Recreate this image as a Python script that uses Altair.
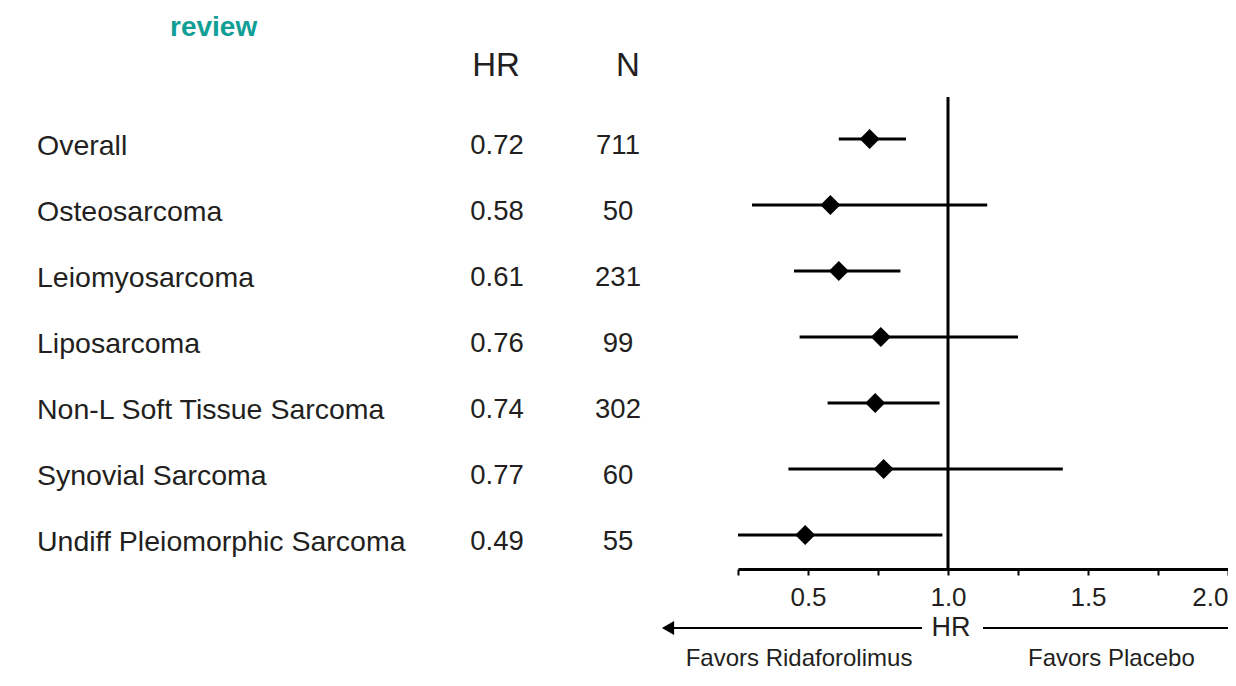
import altair as alt
import pandas as pd

# ---- data ----
categories = ["Overall", "Osteosarcoma", "Leiomyosarcoma", "Liposarcoma",
              "Non-L Soft Tissue Sarcoma", "Synovial Sarcoma",
              "Undiff Pleiomorphic Sarcoma"]
hr_values = [0.72, 0.58, 0.61, 0.76, 0.74, 0.77, 0.49]
n_values = [711, 50, 231, 99, 302, 60, 55]
ci_low = [0.61, 0.30, 0.45, 0.47, 0.57, 0.43, 0.25]
ci_high = [0.85, 1.14, 0.83, 1.25, 0.97, 1.41, 0.98]
axis_ticks = [0.25, 0.5, 0.75, 1.0, 1.25, 1.5, 1.75, 2.0]
ref_value = [1.0]
headers = ["HR", "N"]
legend_left = "Favors Ridaforolimus"
legend_right = "Favors Placebo"
legend_mid = "HR"
title_fragment = "review"

df = pd.DataFrame({
    "row": list(range(len(categories))),
    "label": categories,
    "hr": hr_values,
    "hr_text": [f"{v:.2f}" for v in hr_values],
    "n": [str(v) for v in n_values],
    "lo": ci_low,
    "hi": ci_high,
})

FONT = "Liberation Sans"
TXT = "#231f20"

xscale = alt.Scale(domain=[0.25, 2.0], nice=False, zero=False)
yscale = alt.Scale(domain=[-0.6364, 6.5152], reverse=True, nice=False, zero=False)
x_axis = alt.Axis(
    values=axis_ticks,
    labelExpr="(datum.value == 0.5 || datum.value == 1 || datum.value == 1.5 || datum.value == 2) ? format(datum.value, '.1f') : ''",
    title=None, grid=False, domainColor="black", domainWidth=3,
    tickColor="black", tickWidth=2, tickSize=6, labelFontSize=26,
    labelFont=FONT, labelColor=TXT, labelPadding=9, labelFlush=True,
    labelOverlap=False, labelBaseline="top",
)

base = alt.Chart(df)

ref = alt.Chart(pd.DataFrame({"v": ref_value})).mark_rule(
    color="black", strokeWidth=3
).encode(x=alt.X("v:Q", scale=xscale, axis=x_axis, title=None))

ci = base.mark_rule(color="black", strokeWidth=3).encode(
    x=alt.X("lo:Q", scale=xscale, axis=x_axis, title=None),
    x2="hi:Q",
    y=alt.Y("row:Q", scale=yscale, axis=None),
)

pts = base.mark_point(shape="diamond", filled=True, size=400,
                      color="black", opacity=1).encode(
    x=alt.X("hr:Q", scale=xscale, axis=x_axis, title=None),
    y=alt.Y("row:Q", scale=yscale, axis=None),
)

def col_text(field, xpix, align, size):
    return base.mark_text(align=align, baseline="middle", dy=7, font=FONT,
                          fontSize=size, color=TXT).encode(
        x=alt.value(xpix), y=alt.Y("row:Q", scale=yscale, axis=None),
        text=f"{field}:N")

labels = col_text("label", -701, "left", 28.5)
hr_t = col_text("hr_text", -241, "center", 27.5)
n_t = col_text("n", -120, "center", 27.5)

hdr = alt.Chart(pd.DataFrame({"t": headers, "xp": [-242, -110]})).mark_text(
    align="center", baseline="middle", font=FONT, fontSize=33, color=TXT
).encode(x=alt.X("xp:Q", scale=None), y=alt.value(-31), text="t:N")

title_t = alt.Chart(pd.DataFrame({"t": [title_fragment]})).mark_text(
    align="left", baseline="alphabetic", font=FONT, fontSize=28,
    fontWeight="bold", color="#109e96"
).encode(x=alt.value(-568), y=alt.value(-61), text="t:N")

one = pd.DataFrame({"a": [0]})
LY = 531
arrow_line = alt.Chart(one).mark_rule(color="black", strokeWidth=2).encode(
    x=alt.value(-72), x2=alt.value(184), y=alt.value(LY))
arrow_head = alt.Chart(one).mark_point(shape="triangle-left", filled=True,
                                       size=200, color="black", opacity=1).encode(
    x=alt.value(-70), y=alt.value(LY))
right_line = alt.Chart(one).mark_rule(color="black", strokeWidth=2).encode(
    x=alt.value(245), x2=alt.value(490), y=alt.value(LY))
mid_t = alt.Chart(pd.DataFrame({"t": [legend_mid]})).mark_text(
    align="center", baseline="middle", font=FONT, fontSize=27, color=TXT
).encode(x=alt.value(213), y=alt.value(LY), text="t:N")
fav_l = alt.Chart(pd.DataFrame({"t": [legend_left]})).mark_text(
    align="center", baseline="alphabetic", font=FONT, fontSize=24, color=TXT
).encode(x=alt.value(61), y=alt.value(569), text="t:N")
fav_r = alt.Chart(pd.DataFrame({"t": [legend_right]})).mark_text(
    align="left", baseline="alphabetic", font=FONT, fontSize=24, color=TXT
).encode(x=alt.value(290), y=alt.value(569), text="t:N")

chart = alt.layer(
    ref, ci, pts, labels, hr_t, n_t, hdr, title_t,
    arrow_line, arrow_head, right_line, mid_t, fav_l, fav_r,
).properties(
    width=490, height=472,
    padding={"left": 730, "top": 89, "right": 0, "bottom": 103},
    autosize=alt.AutoSizeParams(type="none"),
    background="white",
).configure_view(stroke=None)

chart.save("out.html", embed_options={"renderer": "svg", "actions": False})
